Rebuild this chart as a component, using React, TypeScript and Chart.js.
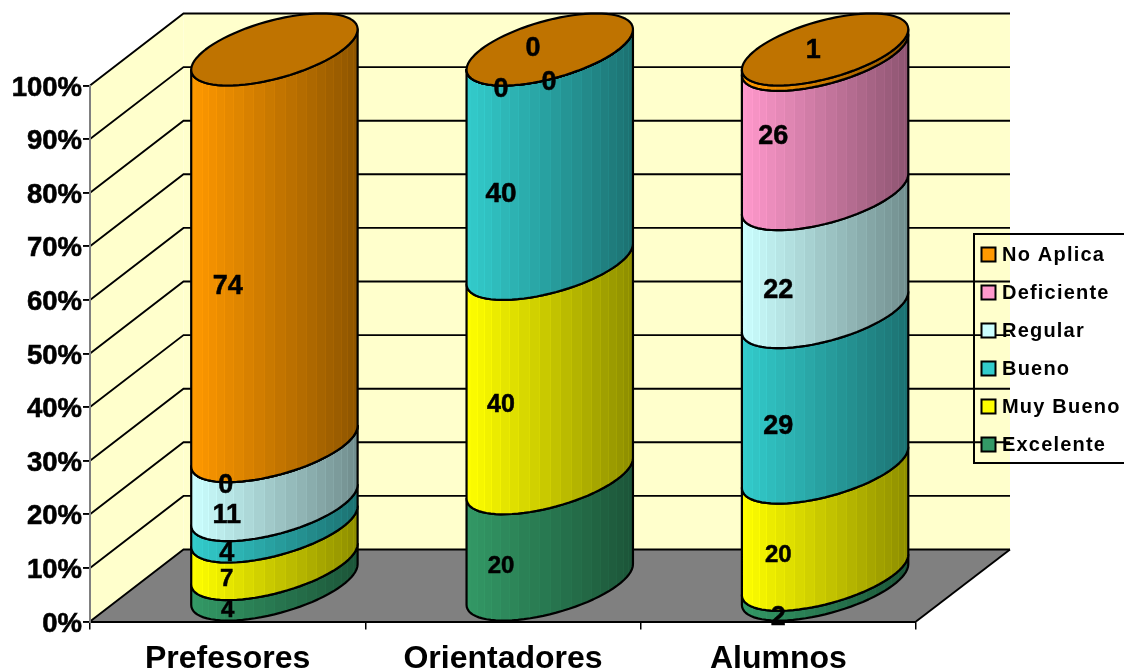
import React, { useEffect, useRef } from "react";
import { Chart, registerables } from "chart.js";

Chart.register(...registerables);

const categories = ["Prefesores", "Orientadores", "Alumnos"];
const excelente = [4, 20, 2];
const muyBueno = [7, 40, 20];
const bueno = [4, 40, 29];
const regular = [11, 0, 22];
const deficiente = [0, 0, 26];
const noAplica = [74, 0, 1];
const yTicks = 10;

const FONT = '"Liberation Sans", Arial, sans-serif';
const DEPTH_X = 93.5;
const DEPTH_Y = 72;
const SHADE_MIN = 0.55;
const WALL = "#FFFFCC";
const FLOOR = "#808080";

// label look and nudges, indexed [dataset][category]
const labelSizes = [
  [24, 24, 27],
  [24, 25, 24],
  [27, 28, 27],
  [27, 27, 27],
  [27, 27, 27],
  [27, 27, 27],
];
const labelNudges: [number, number][][] = [
  [[0, -2], [-2, -3], [0, 0]],
  [[-1, -4], [-2, -4], [0, -4]],
  [[-1, 0], [-2, 0], [0, -1]],
  [[-1, 2], [46, -5], [0, -1]],
  [[-2, 1], [-2, 2], [-5, -26]],
  [[0, 1], [30, -39], [35, -40]],
];

const rgb = (hex: string) => [1, 3, 5].map((i) => parseInt(hex.slice(i, i + 2), 16));
const shade = (hex: string, f: number) => {
  const [r, g, b] = rgb(hex);
  return `rgb(${Math.round(r * f)},${Math.round(g * f)},${Math.round(b * f)})`;
};

function facetGradient(ctx: CanvasRenderingContext2D, left: number, right: number, color: string) {
  const g = ctx.createLinearGradient(left, 0, right, 0);
  const n = 20;
  const w = right - left;
  const edge = (i: number) => 0.5 * (i / n) + 0.25 * (1 - Math.cos((Math.PI * i) / n));
  for (let i = 0; i < n; i++) {
    const u0 = Math.min(1, edge(i));
    const u1 = Math.min(1, edge(i + 1));
    const f = 1 - (1 - SHADE_MIN) * ((u0 + u1) / 2);
    const c = shade(color, f);
    const hl = shade(color, Math.min(1, f + (i > 1 ? 0.05 : 0)));
    const du = 1 / w;
    g.addColorStop(u0, hl);
    g.addColorStop(Math.min(u1, u0 + du), hl);
    g.addColorStop(Math.min(u1, u0 + du), c);
    g.addColorStop(u1, c);
  }
  return g;
}

function ring(cx: number, cy: number, a: number) {
  const dx = DEPTH_X / 2;
  const dy = DEPTH_Y / 2;
  const t0 = Math.atan2(dx, a);
  const at = (t: number): [number, number] => [cx + a * Math.cos(t) + dx * Math.sin(t), cy - dy * Math.sin(t)];
  return { at, t0, radius: Math.hypot(a, dx) };
}

const cylinderPlugin = {
  id: "cylinder3d",
  beforeDraw(chart: any) {
    const { ctx, chartArea: ca, scales } = chart;
    const { left: l, right: r, top: t, bottom: b } = ca;
    const backTop = t - DEPTH_Y;
    const backBottom = b - DEPTH_Y;
    const bl = l + DEPTH_X;
    const br = r + DEPTH_X + 0.5;
    ctx.save();
    ctx.fillStyle = WALL;
    ctx.beginPath();
    ctx.moveTo(l, b); ctx.lineTo(bl, backBottom); ctx.lineTo(bl, backTop); ctx.lineTo(l, t);
    ctx.closePath(); ctx.fill();
    ctx.fillRect(bl, backTop, br - bl, backBottom - backTop);
    ctx.fillStyle = FLOOR;
    ctx.beginPath();
    ctx.moveTo(l, b); ctx.lineTo(bl, backBottom); ctx.lineTo(br, backBottom); ctx.lineTo(r, b);
    ctx.closePath(); ctx.fill();
    ctx.strokeStyle = "#000";
    ctx.lineWidth = 1.9;
    for (const tick of scales.y.ticks) {
      const y = scales.y.getPixelForValue(tick.value);
      ctx.beginPath();
      ctx.moveTo(l, y); ctx.lineTo(bl, y - DEPTH_Y); ctx.lineTo(br, y - DEPTH_Y);
      ctx.stroke();
    }
    ctx.beginPath();
    ctx.moveTo(br, backBottom); ctx.lineTo(r, b);
    ctx.stroke();
    ctx.restore();
  },
  beforeDatasetDraw() {
    return false;
  },
  beforeDatasetsDraw(chart: any) {
    const { ctx } = chart;
    const count = chart.data.labels.length;
    ctx.save();
    ctx.lineWidth = 2.2;
    ctx.strokeStyle = "#000";
    ctx.lineJoin = "round";
    for (let c = 0; c < count; c++) {
      let topRing: any = null;
      let topY = 0;
      let topColor = "#000";
      chart.data.datasets.forEach((ds: any, d: number) => {
        const bar = chart.getDatasetMeta(d).data[c];
        const a = bar.width / 2;
        const cx = bar.x + DEPTH_X / 2;
        const rg = ring(cx, 0, a);
        const steps = 40;
        const y0 = bar.base - DEPTH_Y / 2;
        const y1 = bar.y - DEPTH_Y / 2;
        ctx.beginPath();
        for (let i = 0; i <= steps; i++) {
          const [x, y] = rg.at(rg.t0 + Math.PI + (Math.PI * i) / steps);
          if (i === 0) ctx.moveTo(x, y + y0); else ctx.lineTo(x, y + y0);
        }
        for (let i = steps; i >= 0; i--) {
          const [x, y] = rg.at(rg.t0 + Math.PI + (Math.PI * i) / steps);
          ctx.lineTo(x, y + y1);
        }
        ctx.closePath();
        ctx.fillStyle = facetGradient(ctx, cx - rg.radius, cx + rg.radius, ds.backgroundColor);
        ctx.fill();
        ctx.stroke();
        topRing = rg;
        topY = y1;
        topColor = ds.backgroundColor;
      });
      ctx.beginPath();
      for (let i = 0; i <= 80; i++) {
        const [x, y] = topRing.at((2 * Math.PI * i) / 80);
        if (i === 0) ctx.moveTo(x, y + topY); else ctx.lineTo(x, y + topY);
      }
      ctx.closePath();
      ctx.fillStyle = shade(topColor, 0.75);
      ctx.fill();
      ctx.stroke();
    }
    ctx.restore();
  },
  afterDraw(chart: any) {
    const { ctx } = chart;
    ctx.save();
    // value labels
    ctx.fillStyle = "#000";
    ctx.strokeStyle = "#000";
    ctx.lineWidth = 0.5;
    ctx.textAlign = "center";
    ctx.textBaseline = "middle";
    chart.data.datasets.forEach((ds: any, d: number) => {
      chart.getDatasetMeta(d).data.forEach((bar: any, c: number) => {
        const [nx, ny] = labelNudges[d][c];
        ctx.font = `bold ${labelSizes[d][c]}px ${FONT}`;
        const lx = bar.x + nx;
        const ly = (bar.y + bar.base) / 2 + ny + 2;
        ctx.fillText(String(ds.data[c]), lx, ly);
        ctx.strokeText(String(ds.data[c]), lx, ly);
      });
    });
    // legend
    const boxX = 974;
    const boxY = 234;
    ctx.lineWidth = 2;
    ctx.strokeRect(boxX, boxY, 170, 229);
    ctx.textAlign = "left";
    ctx.font = `bold 20px ${FONT}`;
    (ctx as any).letterSpacing = "1.2px";
    const rows = [...chart.data.datasets].reverse();
    rows.forEach((ds: any, i: number) => {
      const y = 254.5 + i * 38;
      ctx.fillStyle = ds.backgroundColor;
      ctx.fillRect(boxX + 7.5, y - 7, 14, 14);
      ctx.strokeRect(boxX + 7.5, y - 7, 14, 14);
      ctx.fillStyle = "#000";
      ctx.fillText(ds.label, boxX + 28, y + 1);
    });
    (ctx as any).letterSpacing = "0px";
    ctx.restore();
  },
};

// y tick labels sit a little below their ticks in the reference
function lowerLabels(scale: any, dy: number) {
  if (scale.__lowered) return;
  scale.__lowered = true;
  const orig = scale.drawLabels;
  scale.drawLabels = function (area: any) {
    const c = this.ctx;
    c.save();
    c.translate(0, dy);
    orig.call(this, area);
    c.restore();
  };
}

export default function App() {
  const ref = useRef<HTMLCanvasElement>(null);
  useEffect(() => {
    const chart = new Chart(ref.current!, {
      type: "bar",
      data: {
        labels: categories,
        datasets: [
          { label: "Excelente", data: excelente, backgroundColor: "#339966" },
          { label: "Muy Bueno", data: muyBueno, backgroundColor: "#FFFF00" },
          { label: "Bueno", data: bueno, backgroundColor: "#33CCCC" },
          { label: "Regular", data: regular, backgroundColor: "#CCFFFF" },
          { label: "Deficiente", data: deficiente, backgroundColor: "#FF99CC" },
          { label: "No Aplica", data: noAplica, backgroundColor: "#FF9900" },
        ],
      },
      plugins: [cylinderPlugin],
      options: {
        responsive: false,
        animation: false,
        layout: { padding: { top: 85.5, right: 208, left: 0, bottom: 0 } },
        datasets: { bar: { barPercentage: 0.5, categoryPercentage: 1 } },
        plugins: { legend: { display: false }, tooltip: { enabled: false } },
        scales: {
          x: {
            stacked: true,
            afterFit: (s: any) => { s.height = 50.5; },
            grid: { drawOnChartArea: false, tickLength: 8, color: "#000", lineWidth: 1.5 },
            border: { color: "#000", width: 2 },
            ticks: { color: "#000", font: { family: FONT, size: 32, weight: "bold" }, padding: 10, maxRotation: 0 },
          },
          y: {
            stacked: true,
            min: 0,
            max: 100,
            afterFit: (s: any) => { s.width = 90; lowerLabels(s, 2.5); },
            grid: { drawOnChartArea: false, tickLength: 7, color: "#000", lineWidth: 1.9 },
            border: { color: "#808080", width: 2 },
            ticks: {
              stepSize: yTicks,
              color: "#000",
              padding: 1,
              textStrokeColor: "#000",
              textStrokeWidth: 0.6,
              font: { family: FONT, size: 27.5, weight: "bold" },
              callback: (v: any) => `${v}%`,
            },
          },
        },
      } as any,
    });
    return () => chart.destroy();
  }, []);
  return (
    <div style={{ position: "fixed", left: 0, top: 0 }}>
      <canvas ref={ref} width={1124} height={672} style={{ display: "block" }} />
    </div>
  );
}
